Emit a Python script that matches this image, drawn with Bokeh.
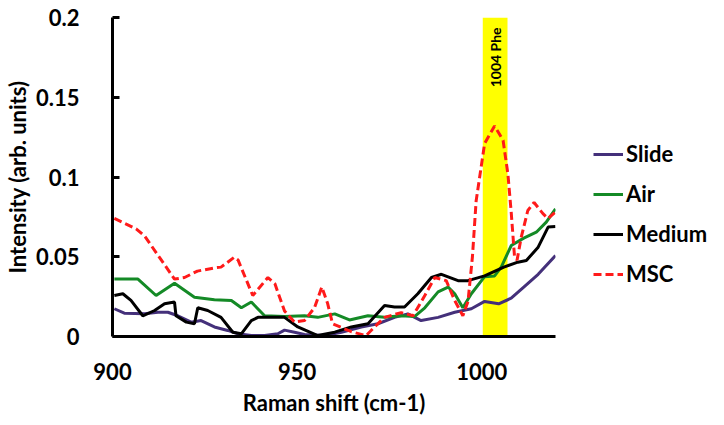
from bokeh.plotting import figure
from bokeh.models import Range1d, FixedTicker, BoxAnnotation, Legend, LegendItem
from bokeh.core.properties import value
from bokeh.embed import file_html
from bokeh.resources import INLINE
import math

# ---- data ----
slide_x = [900.5, 903.2, 908.7, 912.3, 915.0, 917.7, 921.3, 924.0, 927.6, 931.2, 934.0, 937.6, 941.2,
           944.8, 946.6, 949.3, 952.0, 957.5, 962.0, 967.4, 971.9, 976.4, 980.0, 983.6, 988.2, 992.7,
           997.2, 1000.8, 1004.6, 1008.0, 1011.4, 1015.3, 1020.0]
slide_y = [0.0174, 0.0146, 0.0142, 0.0152, 0.0152, 0.013, 0.009, 0.010, 0.006, 0.0038, 0.0017, 0.0006,
           0.0006, 0.0017, 0.004, 0.0027, 0.0013, 0.0006, 0.0027, 0.006, 0.008, 0.012, 0.0142, 0.010,
           0.012, 0.0152, 0.0174, 0.022, 0.0205, 0.024, 0.031, 0.039, 0.0508]

air_x = [900.5, 906.9, 911.8, 916.8, 922.2, 927.6, 932.2, 934.9, 937.6, 941.2, 946.6, 952.0, 955.6,
         960.2, 964.2, 969.2, 973.7, 978.2, 981.8, 984.6, 988.2, 990.9, 992.7, 994.9, 997.2, 1000.8,
         1003.5, 1005.3, 1008.0, 1011.4, 1014.8, 1017.5, 1020.0]
air_y = [0.036, 0.036, 0.0257, 0.0334, 0.0246, 0.023, 0.0226, 0.018, 0.0216, 0.013, 0.0125, 0.013,
         0.012, 0.0142, 0.0104, 0.013, 0.012, 0.013, 0.0125, 0.018, 0.028, 0.031, 0.0268, 0.018,
         0.0268, 0.0375, 0.038, 0.0435, 0.057, 0.0617, 0.0654, 0.0717, 0.080]

medium_x = [900.5, 902.8, 905.0, 908.2, 911.4, 914.1, 916.8, 917.2, 920.0, 922.2, 923.1, 925.8, 929.4,
            932.6, 934.9, 937.6, 939.4, 946.6, 950.2, 955.6, 960.2, 964.7, 969.2, 973.7, 976.4, 979.1,
            982.7, 986.4, 989.1, 993.6, 996.3, 1000.8, 1006.0, 1009.8, 1012.1, 1015.3, 1018.0, 1020.0]
medium_y = [0.0257, 0.0268, 0.0226, 0.013, 0.0163, 0.0205, 0.0216, 0.013, 0.009, 0.008, 0.018, 0.0163,
            0.012, 0.0027, 0.0017, 0.010, 0.012, 0.012, 0.006, 0.0006, 0.0027, 0.006, 0.008, 0.0194,
            0.0185, 0.0185, 0.0268, 0.037, 0.039, 0.035, 0.035, 0.038, 0.0435, 0.0466, 0.0476, 0.056,
            0.0686, 0.069]

msc_x = [900.5, 906.4, 908.7, 913.2, 916.8, 919.5, 923.0, 927.6, 929.4, 933.0, 934.0, 938.0, 942.1,
         944.0, 946.6, 949.3, 952.0, 954.7, 956.7, 958.3, 959.6, 964.7, 968.7, 971.0, 973.7, 978.2,
         981.4, 984.6, 987.3, 990.4, 992.7, 994.9, 996.3, 997.5, 998.5, 1000.8, 1003.5, 1005.8,
         1007.1, 1008.0, 1008.9, 1009.6, 1010.7, 1012.5, 1014.2, 1016.6, 1018.0, 1020.0]
msc_y = [0.074, 0.0675, 0.063, 0.048, 0.036, 0.037, 0.041, 0.043, 0.0435, 0.0497, 0.048, 0.0257, 0.037,
         0.033, 0.016, 0.009, 0.010, 0.018, 0.031, 0.0205, 0.008, 0.003, 0.0006, 0.006, 0.012, 0.015,
         0.013, 0.0257, 0.037, 0.035, 0.0226, 0.013, 0.022, 0.050, 0.085, 0.121, 0.132, 0.123,
         0.102, 0.078, 0.050, 0.048, 0.062, 0.079, 0.084, 0.077, 0.074, 0.078]

series_names = ["Slide", "Air", "Medium", "MSC"]
band_x = [1000.3, 1007.0]
band_label = "1004 Phe"
band_label_x = [1003.65]
band_label_y = [0.175]

x_ticks = [900, 950, 1000]
y_ticks = [0, 0.05, 0.1, 0.15, 0.2]
y_tick_labels = ["0", "0.05", "0.1", "0.15", "0.2"]

FONT = "Lato"

p = figure(frame_width=443, frame_height=319, output_backend="svg", toolbar_location=None,
           x_range=Range1d(900, 1020), y_range=Range1d(0, 0.2),
           min_border_left=108, min_border_right=171, min_border_top=17, min_border_bottom=87)
p.outline_line_color = None
p.xgrid.visible = False
p.ygrid.visible = False

band = BoxAnnotation(left=band_x[0], right=band_x[1], fill_color="#FFFF00", fill_alpha=1.0,
                     line_color=None, level="underlay")
p.add_layout(band)

p.text(x=band_label_x, y=band_label_y, text=[band_label], angle=math.pi / 2,
       text_align="center", text_baseline="middle", text_font=value(FONT),
       text_font_style="bold", text_font_size="14px", text_color="black")

r_slide = p.line(slide_x, slide_y, line_color="#44307a", line_width=3)
r_air = p.line(air_x, air_y, line_color="#148a26", line_width=3)
r_med = p.line(medium_x, medium_y, line_color="black", line_width=3)
r_msc = p.line(msc_x, msc_y, line_color="#ff1a1a", line_width=3, line_dash="8 4")

legend = Legend(items=[LegendItem(label=n, renderers=[r]) for n, r in
                       zip(series_names, [r_slide, r_air, r_med, r_msc])],
                location=(38, 49), orientation="vertical",
                glyph_width=30, glyph_height=24, label_height=24, spacing=13,
                label_standoff=3, padding=0, margin=0,
                border_line_color=None, background_fill_alpha=0,
                label_text_font=FONT, label_text_font_style="bold",
                label_text_font_size="22px", label_text_color="black")
p.add_layout(legend, "right")

for ax in (p.xaxis[0], p.yaxis[0]):
    ax.axis_line_width = 3
    ax.axis_line_color = "black"
    ax.major_label_text_font = FONT
    ax.major_label_text_font_style = "bold"
    ax.major_label_text_font_size = "22px"
    ax.major_label_text_color = "black"
    ax.axis_label_text_font = FONT
    ax.axis_label_text_font_style = "bold"
    ax.axis_label_text_font_size = "22px"
    ax.axis_label_text_color = "black"
    ax.minor_tick_line_color = None

p.xaxis.ticker = FixedTicker(ticks=x_ticks)
p.xaxis.major_tick_line_color = None
p.xaxis.major_label_standoff = 20
p.xaxis.axis_label = "Raman shift (cm-1)"
p.xaxis.axis_label_standoff = 6

p.yaxis.ticker = FixedTicker(ticks=y_ticks)
p.yaxis.major_label_overrides = {t: l for t, l in zip(y_ticks, y_tick_labels)}
p.yaxis.major_tick_in = 7
p.yaxis.major_tick_out = 0
p.yaxis.major_tick_line_width = 3
p.yaxis.major_tick_line_color = "black"
p.yaxis.major_label_standoff = 33
p.yaxis.axis_label = "Intensity (arb. units)"
p.yaxis.axis_label_standoff = 2

open("out.html", "w").write(file_html(p, INLINE))
